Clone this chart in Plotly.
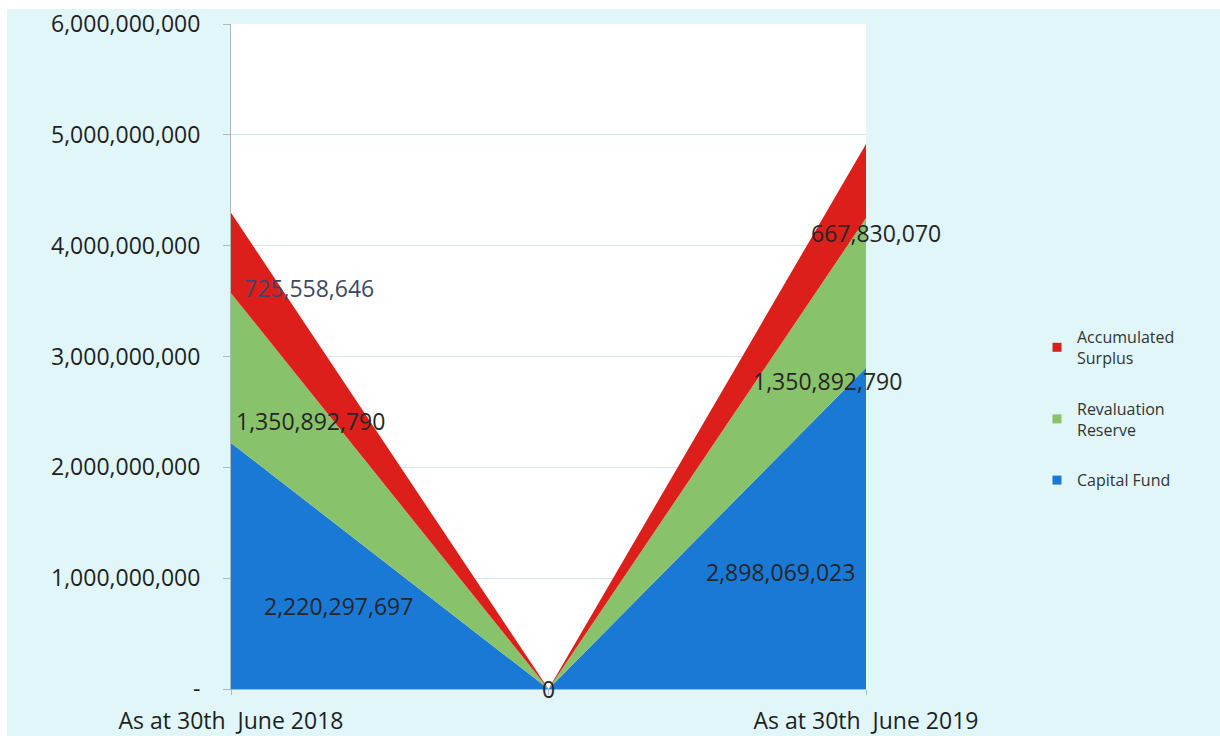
import plotly.graph_objects as go

# Category positions along the x axis (2018, the zero point between, 2019)
x_pos = [0, 1, 2]
x_tick_text = ["As at 30th  June 2018", "", "As at 30th  June 2019"]

# Equity components at each balance date
capital_fund = [2220297697, 0, 2898069023]
revaluation_reserve = [1350892790, 0, 1350892790]
accumulated_surplus = [725558646, 0, 667830070]

series_names = ["Capital Fund", "Revaluation Reserve", "Accumulated Surplus"]
series_values = [capital_fund, revaluation_reserve, accumulated_surplus]
series_colors = ["#1b79d6", "#88c36c", "#dd1f1b"]

y_tick_vals = [0, 1e9, 2e9, 3e9, 4e9, 5e9, 6e9]
y_tick_text = ["-", "1,000,000,000", "2,000,000,000", "3,000,000,000",
               "4,000,000,000", "5,000,000,000", "6,000,000,000"]

# Where each value label sits (category position, height)
label_pos = {
    "Capital Fund": [(0.34, 0.75e9), (1.0, 0.0), (1.73, 1.06e9)],
    "Revaluation Reserve": [(0.25, 2.42e9), None, (1.88, 2.78e9)],
    "Accumulated Surplus": [(0.246, 3.62e9), None, (2.03, 4.11e9)],
}

FONT = "Open Sans"
TEXT = "#333333"
X_MAX = 2

fig = go.Figure()

for name, vals, col in zip(series_names, series_values, series_colors):
    fig.add_trace(go.Scatter(
        x=x_pos, y=vals, name=name, mode="lines",
        stackgroup="equity", line=dict(width=0, color=col),
        fillcolor=col, showlegend=False, hoverinfo="skip",
    ))

# Legend keys as small squares, top entry = top band
for name, col in reversed(list(zip(series_names, series_colors))):
    label = name.replace(" ", "<br>", 1) if name != "Capital Fund" else name
    fig.add_trace(go.Scatter(
        x=[None], y=[None], mode="markers", name=label,
        marker=dict(symbol="square", size=9, color=col),
        legendgroup=name,
    ))

annotations = []
for name, vals in zip(series_names, series_values):
    for i, v in enumerate(vals):
        pos = label_pos[name][i]
        if pos is None:
            continue
        annotations.append(dict(
            x=pos[0] / X_MAX, y=pos[1], xref="paper", yref="y",
            xanchor="center", yanchor="middle",
            text=f"{v:,}", showarrow=False,
            font=dict(family=FONT, size=23,
                      color="#3a4866" if name == "Accumulated Surplus" and i == 0 else "#262626"),
        ))

fig.update_layout(
    width=1220, height=736,
    margin=dict(l=231, r=354, t=24, b=47),
    paper_bgcolor="#ffffff",
    plot_bgcolor="#ffffff",
    font=dict(family=FONT, color=TEXT),
    annotations=annotations,
    shapes=[
        dict(type="rect", xref="paper", yref="paper", layer="below",
             x0=(7 - 231) / 635, x1=(1220 - 231) / 635,
             y0=-47 / 665, y1=(689 - 9) / 665,
             fillcolor="#e0f6f9", line=dict(width=0)),
        dict(type="rect", xref="paper", yref="paper", layer="below",
             x0=0, x1=1, y0=0, y1=1,
             fillcolor="#ffffff", line=dict(width=0)),
    ],
    legend=dict(
        x=(1037 - 231) / 635, y=(689 - 320) / 665,
        xanchor="left", yanchor="top",
        traceorder="grouped", tracegroupgap=27,
        bgcolor="rgba(0,0,0,0)",
        font=dict(family=FONT, size=16, color="#333333"),
    ),
    showlegend=True,
)

fig.update_xaxes(
    range=[0, X_MAX], tickvals=x_pos, ticktext=x_tick_text,
    showgrid=False, zeroline=False, automargin=False,
    showline=True, linecolor="#b0b8bb", linewidth=1,
    ticks="outside", ticklen=5, tickcolor="#b0b8bb",
    ticklabelstandoff=6,
    tickfont=dict(family=FONT, size=23, color="#1f1f1f"),
)
fig.update_yaxes(
    range=[0, 6e9], tickvals=y_tick_vals, ticktext=y_tick_text,
    showgrid=True, gridcolor="#cfe6ee", gridwidth=1, zeroline=False,
    automargin=False,
    showline=True, linecolor="#b0b8bb", linewidth=1,
    ticks="outside", ticklen=7, tickcolor="#b0b8bb",
    ticklabelstandoff=18,
    tickfont=dict(family=FONT, size=23, color="#1f1f1f"),
)

fig.write_html("out.html")
